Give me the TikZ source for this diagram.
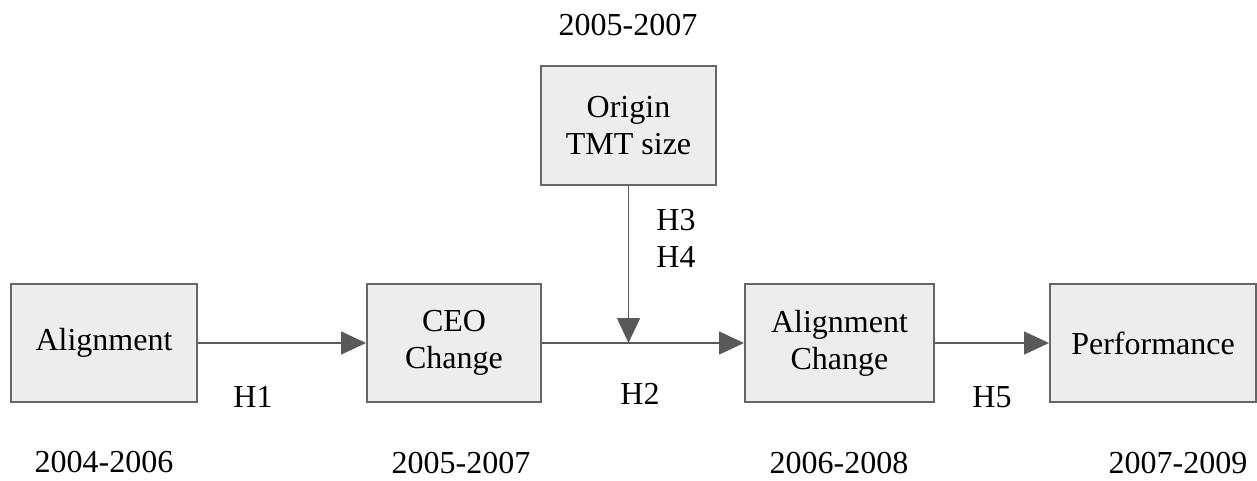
\documentclass[tikz,border=0pt]{standalone}
\usepackage{fontspec}
\setmainfont{Liberation Serif}
\usepackage{xcolor}
\usepackage{tikz}
\usetikzlibrary{arrows.meta,positioning}

\definecolor{boxfill}{HTML}{EDEDED}
\definecolor{boxline}{HTML}{666666}
\definecolor{arrowgray}{HTML}{595959}

\tikzset{
    varbox/.style={draw=boxline,fill=boxfill,line width=1pt,align=center,
        minimum height=59pt,inner sep=2pt,font=\fontsize{16}{18.5}\selectfont},
    link/.style={draw=arrowgray,line width=0.8pt,-{Triangle[length=12.5pt,width=11.5pt]}},
    lbl/.style={font=\fontsize{16}{18.5}\selectfont,inner sep=0pt}
}

\begin{document}
\begin{tikzpicture}[x=0.5pt,y=-0.5pt]
    \useasboundingbox (0,0) rectangle (1257,481);

    % Boxes
    \node[varbox,minimum width=93pt] (align) at (104,343) {Alignment};
    \node[varbox,minimum width=87pt] (ceo) at (454,343) {CEO\\Change};
    \node[varbox,minimum width=87.5pt] (origin) at (628.5,125.5) {Origin\\TMT size};
    \node[varbox,minimum width=94.5pt] (achange) at (839.5,343) {Alignment\\Change};
    \node[varbox,minimum width=103pt] (perf) at (1153,343) {Performance};

    % Moderation point
    \coordinate (join) at (628.5,343);

    % Links
    \draw[link] (align) -- (ceo);
    \draw[link] (ceo) -- (achange);
    \draw[link] (origin) -- (join);
    \draw[link] (achange) -- (perf);

    % Hypotheses
    \node[lbl] (h1) at (253,397) {H1};
    \node[lbl] (h2) at (640,394) {H2};
    \node[lbl,align=left] (h34) at (676,238) {H3\\H4};
    \node[lbl] (h5) at (992,397) {H5};

    % Periods
    \node[lbl] (t0) at (628,25) {2005-2007};
    \node[lbl] (t1) at (104,462) {2004-2006};
    \node[lbl] (t2) at (461,463) {2005-2007};
    \node[lbl] (t3) at (839,463) {2006-2008};
    \node[lbl] (t4) at (1178,463) {2007-2009};
\end{tikzpicture}
\end{document}
